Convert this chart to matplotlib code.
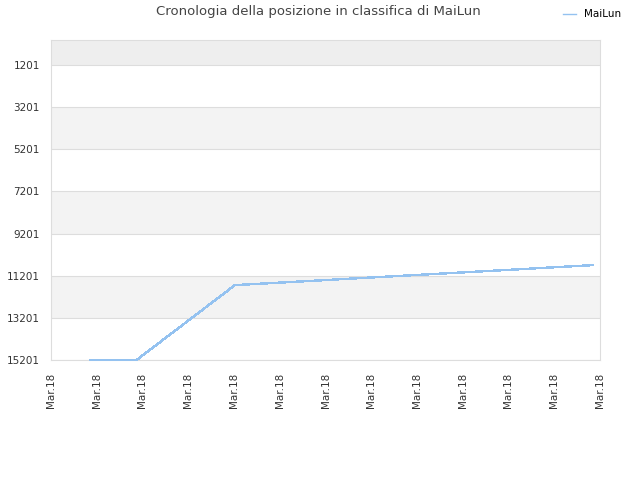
import matplotlib
matplotlib.use("Agg")
import matplotlib.pyplot as plt

# dati
tick_labels = ["Mar.18"] * 13
giorni = [0.86, 1.87, 4.02, 11.85]
posizione = [15201, 15201, 11647, 10698]
yticks = [1201, 3201, 5201, 7201, 9201, 11201, 13201, 15201]

fig = plt.figure(figsize=(6.4, 4.8), dpi=100)
ax = fig.add_axes([51 / 640, 120 / 480, 549 / 640, 320 / 480])

ymin, ymax = 14, 15201
# fasce alternate
ax.axhspan(ymin, 1201, color="#eeeeee", lw=0, zorder=0)
for i in range(len(yticks) - 1):
    if i % 2 == 1:
        ax.axhspan(yticks[i], yticks[i + 1], color="#f3f3f3", lw=0, zorder=0)
for t in yticks:
    ax.axhline(t, color="#dddddd", lw=0.8, zorder=1)

ax.plot(giorni, posizione, color="#94c2f0", lw=1.0, antialiased=False,
        label="MaiLun", zorder=4, clip_on=False)

ax.set_ylim(ymax, ymin)
ax.set_xlim(0, 12)
ax.set_yticks(yticks)
ax.set_yticklabels([str(t) for t in yticks])
ax.set_xticks(range(13))
ax.set_xticklabels(tick_labels, rotation=90)
ax.tick_params(length=0, labelsize=7.5, colors="#333333", pad=8)
ax.tick_params(axis="x", pad=9)
for s in ax.spines.values():
    s.set_color("#dddddd")

fig.text(0.497, 0.975, "Cronologia della posizione in classifica di MaiLun",
         ha="center", va="center", fontsize=9.5, color="#444444")
fig.legend(loc="upper right", bbox_to_anchor=(0.985, 1.0), frameon=False,
           fontsize=7.5, handlelength=1.2, handletextpad=0.8)

fig.savefig("out.png", dpi=100)
